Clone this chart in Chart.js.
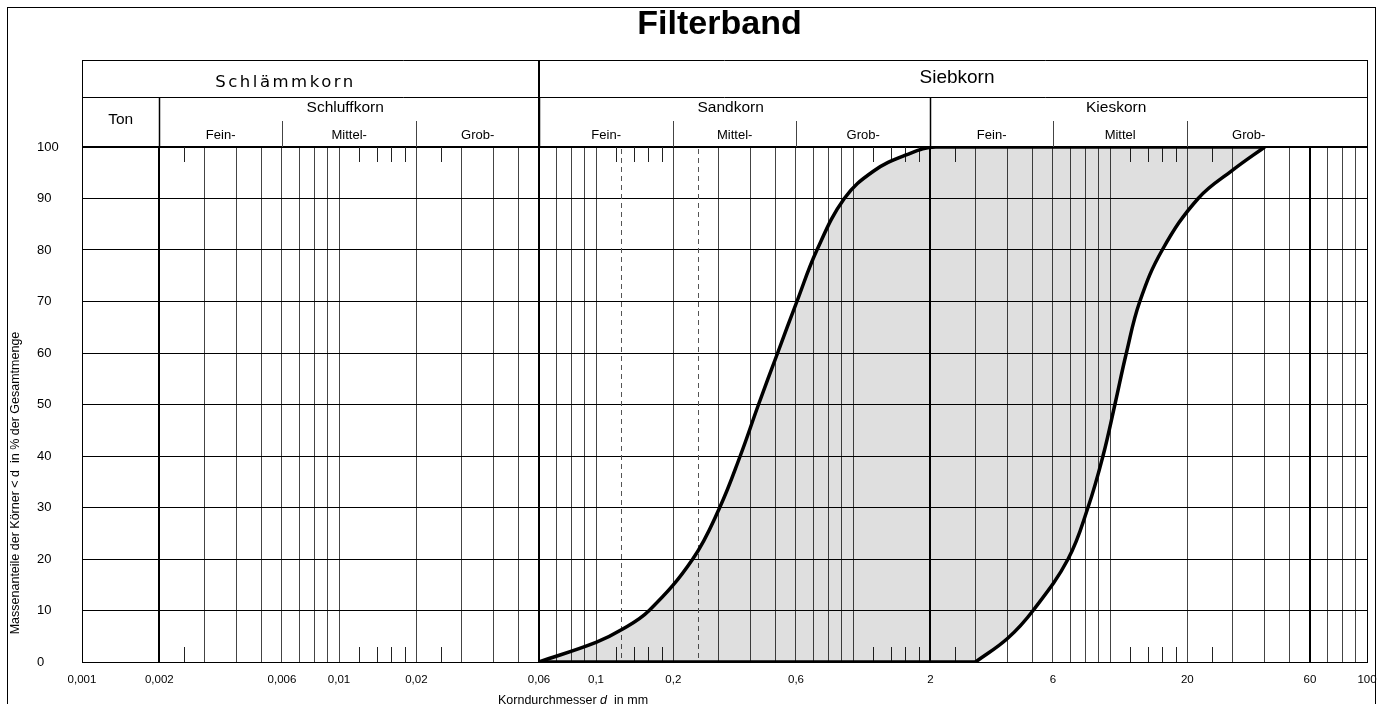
<!DOCTYPE html>
<html><head><meta charset="utf-8">
<script src="https://cdn.jsdelivr.net/npm/chart.js@4.4.1/dist/chart.umd.min.js"></script>
<style>html,body{margin:0;padding:0;background:#fff}#wrap{width:1383px;height:704px;position:relative}</style>
</head><body><div id="wrap"><canvas id="c"></canvas></div>
<script>
// ---- data (grain size d in mm, passing in %) ----
// fine boundary of the band
const upperD = [0.06, 0.1, 0.125, 0.161, 0.238, 0.303, 0.364, 0.429, 0.509, 0.605, 0.724, 0.925, 1.2, 1.6, 2.1, 40];
const upperP = [0, 3.8, 6.2, 10, 20, 30, 40, 50, 60, 70, 80, 90, 95.3, 98.4, 100, 100];
// coarse boundary of the band
const lowerD = [3, 4, 5.02, 6.87, 8.21, 9.39, 10.45, 11.58, 13.06, 15.97, 22.03, 30, 40];
const lowerP = [0, 4.6, 10, 20, 30, 40, 50, 60, 70, 80, 90, 95.5, 100];
// bottom edge of the band
const baseD = [0.06, 3];
const baseP = [0, 0];

// ---- axis ticks ----
const xLabelValues = [0.001, 0.002, 0.006, 0.01, 0.02, 0.06, 0.1, 0.2, 0.6, 2, 6, 20, 60, 100];
const xLabelTexts = ['0,001', '0,002', '0,006', '0,01', '0,02', '0,06', '0,1', '0,2', '0,6', '2', '6', '20', '60', '100'];
const gridMantissas = [1, 2, 3, 4, 5, 6, 7, 8, 9];
const gridDecades = [0.001, 0.01, 0.1, 1, 10];
const thickValues = [0.002, 0.06, 2, 60];
const shortTickValues = [0.0025, 0.012, 0.014, 0.016, 0.018, 0.025, 0.12, 0.14, 0.16, 0.18, 1.2, 1.4, 1.6, 1.8, 2.5, 12, 14, 16, 18, 25];
const dashedValues = [0.125, 0.25];
const yTickValues = [0, 10, 20, 30, 40, 50, 60, 70, 80, 90, 100];

// ---- header classification ----
const mainGroups = ['Schlämmkorn', 'Siebkorn'];
const mainBounds = [0.001, 0.06, 100];
const subGroups = ['Ton', 'Schluffkorn', 'Sandkorn', 'Kieskorn'];
const subBounds = [0.001, 0.002, 0.06, 2, 60];
const fineLabels = ['Fein-', 'Mittel-', 'Grob-', 'Fein-', 'Mittel-', 'Grob-', 'Fein-', 'Mittel', 'Grob-'];
const fineBounds = [0.002, 0.006, 0.02, 0.06, 0.2, 0.6, 2, 6, 20, 60];

const titleText = 'Filterband';
const yTitle = 'Massenanteile der Körner < d  in % der Gesamtmenge';

const FAM = "'Liberation Sans', Arial, Helvetica, sans-serif";

const xTickValues = [0.001];
gridDecades.forEach(dec => gridMantissas.forEach(m => {
  const v = +(m * dec).toPrecision(6);
  if (v > 0.001) xTickValues.push(v);
}));
xTickValues.push(100);

const isIn = (arr, v) => arr.some(a => Math.abs(a - v) / a < 1e-6);
const pts = (ds, ps) => ds.map((d, i) => ({ x: d, y: ps[i] }));

const decorPlugin = {
  id: 'decor',
  beforeDraw(chart) {
    const ctx = chart.ctx;
    ctx.save();
    ctx.fillStyle = '#fff';
    ctx.fillRect(0, 0, chart.width, chart.height);
    ctx.strokeStyle = '#000';
    ctx.lineWidth = 1;
    ctx.strokeRect(7.5, 7.5, chart.width - 15, chart.height + 40);
    ctx.restore();
  },
  beforeDatasetsDraw(chart) {
    const ctx = chart.ctx, a = chart.chartArea, xs = chart.scales.x;
    ctx.save();
    ctx.strokeStyle = '#222';
    ctx.lineWidth = 1;
    shortTickValues.forEach(v => {
      const x = Math.round(xs.getPixelForValue(v)) + 0.5;
      ctx.beginPath();
      ctx.moveTo(x, a.top); ctx.lineTo(x, a.top + 15);
      ctx.moveTo(x, a.bottom); ctx.lineTo(x, a.bottom - 15);
      ctx.stroke();
    });
    ctx.strokeStyle = '#555';
    ctx.setLineDash([5, 4]);
    dashedValues.forEach(v => {
      const x = Math.round(xs.getPixelForValue(v)) + 0.5;
      ctx.beginPath();
      ctx.moveTo(x, a.top + 2); ctx.lineTo(x, a.bottom);
      ctx.stroke();
    });
    ctx.restore();
  },
  afterDraw(chart) {
    const ctx = chart.ctx, a = chart.chartArea, xs = chart.scales.x;
    const px = v => xs.getPixelForValue(v);
    const L = a.left, R = a.right, T = a.top;
    const y1 = T - 87, y2 = T - 50, y3 = T - 26;
    ctx.save();
    const hline = (x0, x1, y, w) => { ctx.lineWidth = w || 1; ctx.strokeStyle = '#000'; ctx.beginPath(); ctx.moveTo(x0, Math.round(y) + 0.5); ctx.lineTo(x1, Math.round(y) + 0.5); ctx.stroke(); };
    const vline = (x, ya, yb, w, c) => { ctx.lineWidth = w || 1; ctx.strokeStyle = c || '#000'; const xx = (w || 1) % 2 ? Math.round(x) + 0.5 : Math.round(x); ctx.beginPath(); ctx.moveTo(xx, ya); ctx.lineTo(xx, yb); ctx.stroke(); };
    hline(L, R, y1); hline(L, R, y2);
    vline(L, y1, T); vline(R, y1, T);
    vline(px(mainBounds[1]), y1, T, 2);
    for (let i = 1; i < subBounds.length - 1; i++) vline(px(subBounds[i]), y2, T, subBounds[i] === 60 ? 2 : 1.5);
    for (let i = 1; i < fineBounds.length - 1; i++) {
      if (subBounds.includes(fineBounds[i])) continue;
      vline(px(fineBounds[i]), y3, T, 1, '#444');
    }
    ctx.fillStyle = '#000';
    ctx.textAlign = 'center';
    ctx.textBaseline = 'middle';
    // title
    ctx.font = 'bold 34px ' + FAM;
    ctx.fillText(titleText, (L + R) / 2 - 5, 25);
    // main groups
    ctx.font = "16.5px 'DejaVu Sans', sans-serif";
    try { ctx.letterSpacing = '2.5px'; } catch (e) {}
    ctx.fillText(mainGroups[0], (px(mainBounds[0]) + px(mainBounds[1])) / 2 - 25, y1 + 23);
    try { ctx.letterSpacing = '0px'; } catch (e) {}
    ctx.font = '19px ' + FAM;
    ctx.fillText(mainGroups[1], (px(mainBounds[1]) + px(mainBounds[2])) / 2 + 4, y1 + 18);
    // sub groups
    ctx.font = '15.5px ' + FAM;
    ctx.fillText(subGroups[0], (px(subBounds[0]) + px(subBounds[1])) / 2, (y2 + T) / 2 - 2);
    for (let i = 1; i < subGroups.length; i++) {
      ctx.fillText(subGroups[i], (px(subBounds[i]) + px(subBounds[i + 1])) / 2 - 4, y2 + 10.5);
    }
    // fine groups
    ctx.font = '13px ' + FAM;
    for (let i = 0; i < fineLabels.length; i++) {
      ctx.fillText(fineLabels[i], (px(fineBounds[i]) + px(fineBounds[i + 1])) / 2, y3 + 14);
    }
    // y-axis title
    ctx.save();
    ctx.translate(16, 483);
    ctx.rotate(-Math.PI / 2);
    ctx.font = '12.5px ' + FAM;
    ctx.fillText(yTitle, 0, 0);
    ctx.restore();
    // x-axis title
    ctx.textAlign = 'left';
    ctx.font = '12.5px ' + FAM;
    let x = 498;
    const p1 = 'Korndurchmesser ', p3 = '  in mm';
    ctx.fillText(p1, x, 701); x += ctx.measureText(p1).width;
    ctx.font = 'italic 12.5px ' + FAM;
    ctx.fillText('d', x, 701); x += ctx.measureText('d').width;
    ctx.font = '12.5px ' + FAM;
    ctx.fillText(p3, x, 701);
    ctx.restore();
  }
};

const lineStyle = { borderColor: '#000', borderWidth: 3.5, pointRadius: 0, tension: 0.4 };
const bandFill = 'rgba(0,0,0,0.125)';

new Chart(document.getElementById('c'), {
  type: 'line',
  data: {
    datasets: [
      Object.assign({ label: 'Grenzlinie fein', data: pts(upperD, upperP), fill: '+1', backgroundColor: bandFill }, lineStyle),
      Object.assign({ label: 'Grenzlinie grob', data: pts(lowerD, lowerP), fill: false }, lineStyle),
      Object.assign({ label: 'Basis', data: pts(baseD, baseP), fill: '-2', backgroundColor: bandFill }, lineStyle, { tension: 0 })
    ]
  },
  options: {
    responsive: true, maintainAspectRatio: false, animation: false,
    layout: { padding: { left: 37, right: 16, top: 147, bottom: 0 } },
    plugins: { legend: { display: false }, tooltip: { enabled: false }, title: { display: false } },
    scales: {
      x: {
        type: 'logarithmic', min: 0.001, max: 100,
        afterBuildTicks: s => { s.ticks = xTickValues.map(v => ({ value: v })); },
        afterFit: s => { s.height = 42; s.paddingLeft = 0; s.paddingRight = 0; },
        ticks: {
          autoSkip: false, maxRotation: 0, minRotation: 0, padding: 11, color: '#000',
          font: { family: FAM, size: 11.5 },
          callback: v => { const i = xLabelValues.findIndex(a => Math.abs(a - v) / a < 1e-6); return i >= 0 ? xLabelTexts[i] : ''; }
        },
        grid: {
          drawTicks: false,
          color: c => { const v = c.tick ? c.tick.value : 0; if (Math.abs(v - 0.001) < 1e-9) return 'rgba(0,0,0,0)'; return isIn(thickValues, v) || v === 100 ? '#000' : '#444'; },
          lineWidth: c => { const v = c.tick ? c.tick.value : 0; return isIn(thickValues, v) ? 2 : 1; }
        },
        border: { color: '#000', width: 1 }
      },
      y: {
        type: 'linear', min: 0, max: 100,
        afterBuildTicks: s => { s.ticks = yTickValues.map(v => ({ value: v })); },
        afterFit: s => { s.width = 45; },
        ticks: { crossAlign: 'far', padding: 0, color: '#000', font: { family: FAM, size: 13 } },
        grid: { drawTicks: false, color: '#000', lineWidth: c => (c.tick && c.tick.value === 100) ? 2 : 1 },
        border: { color: '#000', width: 1 }
      }
    }
  },
  plugins: [decorPlugin]
});
</script>
</body></html>
